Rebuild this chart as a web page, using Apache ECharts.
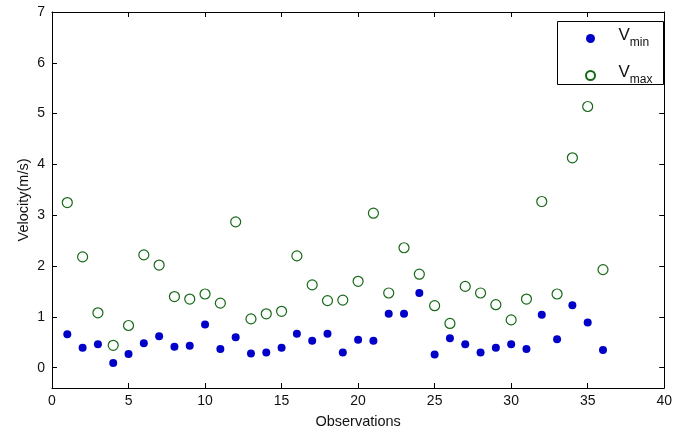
<!DOCTYPE html>
<html>
<head>
<meta charset="utf-8">
<script src="https://cdn.jsdelivr.net/npm/echarts@6/dist/echarts.min.js"></script>
<style>
  html, body { margin: 0; padding: 0; background: #fff; }
  #chart { width: 675px; height: 436px; }
</style>
</head>
<body>
<div id="chart"></div>
<script>
// observation numbers 1..36
const observations = [1, 2, 3, 4, 5, 6, 7, 8, 9, 10, 11, 12, 13, 14, 15, 16, 17, 18,
  19, 20, 21, 22, 23, 24, 25, 26, 27, 28, 29, 30, 31, 32, 33, 34, 35, 36];
// minimum velocity (m/s)
const vMin = [0.66, 0.39, 0.46, 0.09, 0.27, 0.48, 0.62, 0.41, 0.43, 0.85, 0.37, 0.60,
  0.28, 0.30, 0.39, 0.67, 0.53, 0.67, 0.30, 0.55, 0.53, 1.06, 1.06, 1.47,
  0.26, 0.58, 0.46, 0.30, 0.39, 0.46, 0.37, 1.04, 0.56, 1.23, 0.89, 0.35];
// maximum velocity (m/s)
const vMax = [3.25, 2.18, 1.08, 0.44, 0.83, 2.22, 2.02, 1.40, 1.35, 1.45, 1.27, 2.87,
  0.96, 1.06, 1.11, 2.20, 1.63, 1.32, 1.33, 1.70, 3.04, 1.47, 2.36, 1.84,
  1.22, 0.87, 1.60, 1.47, 1.24, 0.94, 1.35, 3.27, 1.45, 4.13, 5.14, 1.93];
const yTicks = [0, 1, 2, 3, 4, 5, 6, 7];

const font = 'Liberation Sans, Arial, sans-serif';
const chart = echarts.init(document.getElementById('chart'));

const tickStyle = { show: true, inside: true, length: 5, lineStyle: { color: '#000', width: 1 } };
const lineStyle = { show: true, onZero: false, lineStyle: { color: '#000', width: 1 } };

chart.setOption({
  animation: false,
  backgroundColor: '#fff',
  grid: { left: 52, right: 10, top: 12, bottom: 48 },
  // legend frame
  graphic: [{
    type: 'rect', left: 557, top: 21, z: 3,
    shape: { width: 106, height: 63 },
    style: { fill: '#fff', stroke: '#000', lineWidth: 1 }
  }],
  legend: {
    left: 585, top: 27, z: 5,
    orient: 'vertical',
    padding: 0,
    itemWidth: 46,
    itemHeight: 9,
    itemGap: 15,
    data: ['Vmin', 'Vmax'],
    formatter: name => '{v|V}{s|' + name.slice(1) + '}',
    textStyle: {
      fontFamily: font,
      rich: {
        v: { fontSize: 17, fontFamily: font, color: '#111', padding: [0, 0, 6, 0] },
        s: { fontSize: 12, fontFamily: font, color: '#111', padding: [9, 0, 0, 0] }
      }
    }
  },
  xAxis: [{
    type: 'value', min: 0, max: 40, interval: 5,
    name: 'Observations', nameLocation: 'middle', nameGap: 26,
    nameMoveOverlap: false,
    nameTextStyle: { fontFamily: font, fontSize: 14.5, color: '#111' },
    axisLine: lineStyle, axisTick: tickStyle,
    axisLabel: { fontFamily: font, fontSize: 14, color: '#111', margin: 6 },
    splitLine: { show: false }
  }, {
    type: 'value', min: 0, max: 40, interval: 5, position: 'top',
    axisLine: lineStyle, axisTick: tickStyle,
    axisLabel: { show: false }, splitLine: { show: false }
  }],
  yAxis: [{
    type: 'value', min: -0.4, max: 7,
    name: 'Velocity(m/s)', nameLocation: 'middle', nameGap: 21,
    nameMoveOverlap: false,
    nameTextStyle: { fontFamily: font, fontSize: 14.5, color: '#111' },
    axisLine: lineStyle,
    axisTick: Object.assign({ customValues: yTicks }, tickStyle),
    axisLabel: {
      fontFamily: font, fontSize: 14, color: '#111', margin: 7,
      customValues: yTicks
    },
    splitLine: { show: false }
  }, {
    type: 'value', min: -0.4, max: 7, position: 'right',
    axisLine: lineStyle,
    axisTick: Object.assign({ customValues: yTicks }, tickStyle),
    axisLabel: { show: false }, splitLine: { show: false }
  }],
  series: [{
    name: 'Vmin', type: 'scatter',
    symbol: 'circle', symbolSize: 8,
    itemStyle: { color: '#0000c8', opacity: 1 },
    data: observations.map((x, i) => [x, vMin[i]])
  }, {
    name: 'Vmax', type: 'scatter',
    symbol: 'circle', symbolSize: 10,
    itemStyle: { color: '#fbfffb', borderColor: '#1a661a', borderWidth: 1.2, opacity: 1 },
    data: observations.map((x, i) => [x, vMax[i]])
  }]
});
</script>
</body>
</html>
